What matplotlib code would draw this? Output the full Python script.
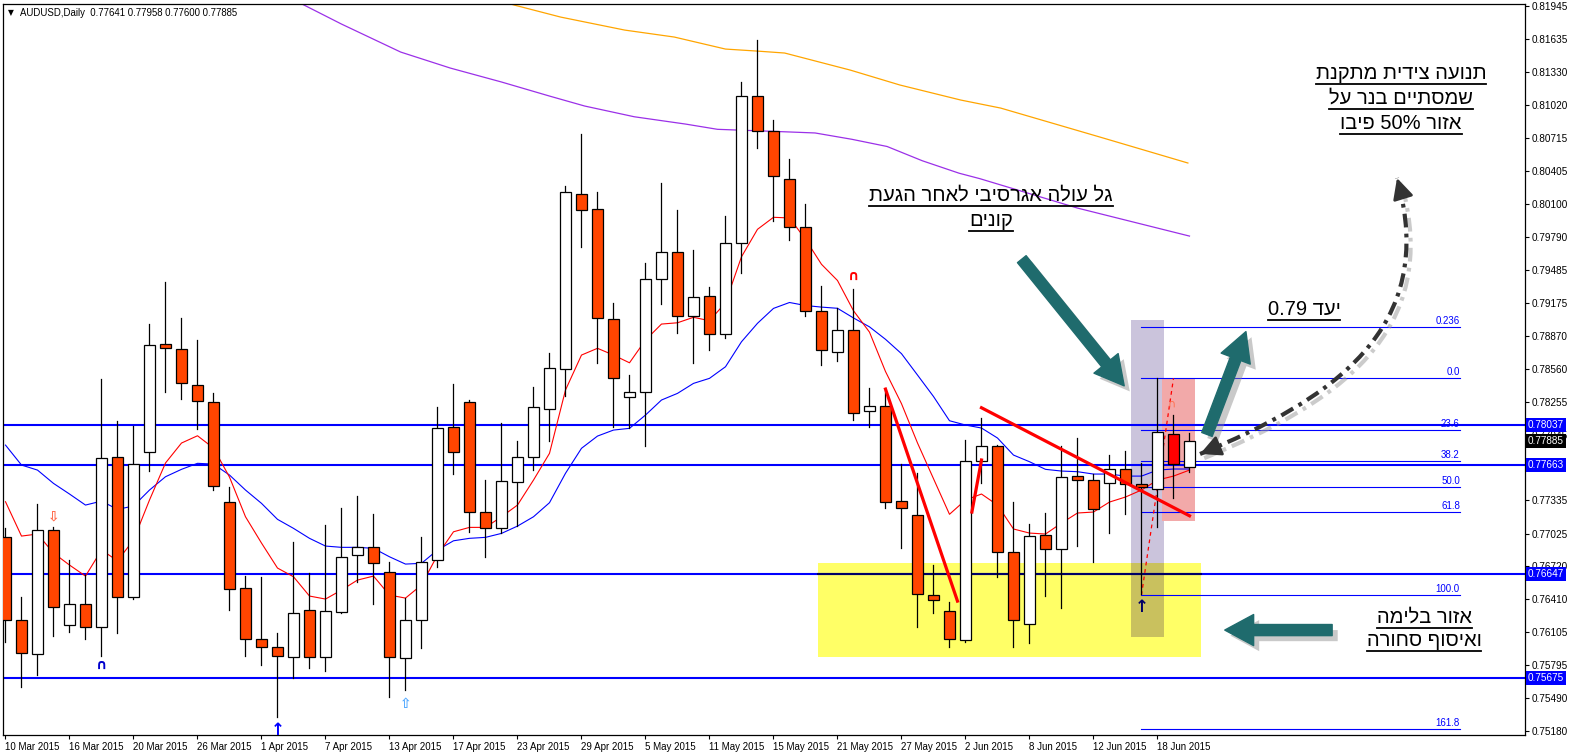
import re
import matplotlib
matplotlib.use("Agg")
import matplotlib.pyplot as plt
import matplotlib.patheffects as pe
from matplotlib.patches import Rectangle, FancyArrowPatch, PathPatch
from matplotlib.path import Path
from matplotlib.lines import Line2D
from matplotlib.transforms import IdentityTransform, blended_transform_factory

plt.rcParams['font.family'] = ['Liberation Sans', 'DejaVu Sans']

# daily candles: bar 0 = 10 Mar 2015 ... bar 74 = 22 Jun 2015 (weekdays)
opens = [0.76995, 0.76218, 0.75899, 0.77057, 0.76169, 0.76368, 0.76150, 0.77740, 0.76430, 0.77781,
         0.78788, 0.78741, 0.78406, 0.78247, 0.77315, 0.76514, 0.76039, 0.75964, 0.75876, 0.76312,
         0.75876, 0.76296, 0.76821, 0.76896, 0.76663, 0.75864, 0.76218, 0.76778, 0.78020, 0.78247,
         0.77222, 0.77073, 0.77502, 0.77740, 0.78182, 0.78555, 0.80189, 0.80046, 0.79021, 0.78294,
         0.78341, 0.79394, 0.79645, 0.79052, 0.79241, 0.78881, 0.79729, 0.81099, 0.80776, 0.80326,
         0.79880, 0.79101, 0.78712, 0.78917, 0.78163, 0.78209, 0.77330, 0.77193, 0.76455, 0.76299,
         0.76028, 0.77700, 0.77837, 0.76849, 0.76178, 0.77008, 0.76877, 0.77558, 0.77520, 0.77492,
         0.77629, 0.77489, 0.77439, 0.77949, 0.77641]
highs = [0.77076, 0.76436, 0.77300, 0.77088, 0.76778, 0.76638, 0.78465, 0.78073, 0.78029, 0.78977,
         0.79366, 0.79030, 0.78828, 0.78331, 0.77455, 0.76629, 0.76622, 0.76100, 0.76948, 0.76654,
         0.77104, 0.77262, 0.77374, 0.77204, 0.76762, 0.76423, 0.76995, 0.78206, 0.78418, 0.78269,
         0.77523, 0.78052, 0.77887, 0.78393, 0.78704, 0.80263, 0.80748, 0.80205, 0.79170, 0.78502,
         0.79543, 0.80288, 0.80040, 0.79667, 0.79319, 0.79984, 0.81230, 0.81624, 0.80878, 0.80516,
         0.80093, 0.79328, 0.79124, 0.79301, 0.78382, 0.78375, 0.77670, 0.77593, 0.76727, 0.76388,
         0.77892, 0.78101, 0.77849, 0.77315, 0.77113, 0.77213, 0.77840, 0.77912, 0.77579, 0.77756,
         0.77793, 0.77679, 0.78471, 0.78129, 0.77958]
lows = [0.76016, 0.75591, 0.75706, 0.76072, 0.76109, 0.76039, 0.75886, 0.76094, 0.76411, 0.77610,
        0.78346, 0.78275, 0.77996, 0.77430, 0.76312, 0.75886, 0.75799, 0.75312, 0.75675, 0.75774,
        0.75746, 0.76286, 0.76575, 0.76365, 0.75504, 0.75566, 0.75957, 0.76715, 0.77576, 0.77041,
        0.76808, 0.77026, 0.77095, 0.77616, 0.77890, 0.78306, 0.79698, 0.78611, 0.78020, 0.78005,
        0.77843, 0.79164, 0.78890, 0.78611, 0.78735, 0.78844, 0.79450, 0.80615, 0.79940, 0.79756,
        0.79048, 0.78591, 0.78635, 0.78086, 0.78019, 0.77260, 0.76894, 0.76155, 0.76282, 0.75966,
        0.76015, 0.77492, 0.76622, 0.75970, 0.76007, 0.76445, 0.76333, 0.76911, 0.76762, 0.77026,
        0.77204, 0.76458, 0.77088, 0.77353, 0.77600]
closes = [0.76218, 0.75908, 0.77057, 0.76342, 0.76368, 0.76150, 0.77725, 0.76430, 0.77672, 0.78779,
          0.78751, 0.78424, 0.78257, 0.77464, 0.76505, 0.76039, 0.75964, 0.75886, 0.76281, 0.75876,
          0.76302, 0.76803, 0.76896, 0.76752, 0.75871, 0.76218, 0.76762, 0.78005, 0.77781, 0.77222,
          0.77073, 0.77514, 0.77740, 0.78201, 0.78564, 0.80205, 0.80037, 0.79030, 0.78471, 0.78341,
          0.79394, 0.79645, 0.79052, 0.79226, 0.78881, 0.79729, 0.81099, 0.80776, 0.80357, 0.79880,
          0.79101, 0.78735, 0.78917, 0.78146, 0.78209, 0.77320, 0.77260, 0.76462, 0.76401, 0.76039,
          0.77697, 0.77837, 0.76849, 0.76218, 0.77001, 0.76877, 0.77554, 0.77520, 0.77250, 0.77629,
          0.77483, 0.77455, 0.77968, 0.77670, 0.77885]

ma_fast = [0.77321, 0.77001, 0.77020, 0.76843, 0.76731, 0.76628, 0.76871, 0.76771, 0.76964, 0.77337,
           0.77682, 0.77868, 0.77936, 0.77821, 0.77551, 0.77181, 0.76936, 0.76703, 0.76622, 0.76442,
           0.76414, 0.76498, 0.76591, 0.76628, 0.76451, 0.76423, 0.76545, 0.76824, 0.77041, 0.77082,
           0.77082, 0.77181, 0.77290, 0.77523, 0.77772, 0.78362, 0.78688, 0.78751, 0.78688, 0.78616,
           0.78828, 0.78977, 0.78989, 0.79040, 0.79008, 0.79176, 0.79604, 0.79860, 0.79972, 0.79966,
           0.79767, 0.79534, 0.79383, 0.79101, 0.78902, 0.78535, 0.78235, 0.77869, 0.77536, 0.77204,
           0.77337, 0.77393, 0.77290, 0.77067, 0.77029, 0.77020, 0.77122, 0.77216, 0.77225, 0.77318,
           0.77365, 0.77430, 0.77523, 0.77560, 0.77616]
ma_mid = [0.77849, 0.77663, 0.77616, 0.77492, 0.77393, 0.77290, 0.77327, 0.77250, 0.77281, 0.77430,
          0.77554, 0.77623, 0.77679, 0.77672, 0.77570, 0.77430, 0.77306, 0.77157, 0.77073, 0.76980,
          0.76908, 0.76896, 0.76896, 0.76887, 0.76808, 0.76740, 0.76747, 0.76871, 0.76957, 0.76980,
          0.76989, 0.77026, 0.77094, 0.77181, 0.77312, 0.77586, 0.77819, 0.77933, 0.77989, 0.78005,
          0.78129, 0.78269, 0.78331, 0.78424, 0.78471, 0.78579, 0.78812, 0.78984, 0.79123, 0.79178,
          0.79150, 0.79135, 0.79124, 0.79034, 0.78951, 0.78835, 0.78701, 0.78502, 0.78302, 0.78076,
          0.78036, 0.78008, 0.77915, 0.77756, 0.77694, 0.77623, 0.77607, 0.77601, 0.77579, 0.77579,
          0.77560, 0.77560, 0.77616, 0.77626, 0.77626]
ma_slow_bar = [18.0, 21.0, 24.7, 27.8, 31.0, 34.0, 36.2, 39.3, 42.5, 44.5, 48.7, 50.6, 52.9, 55.1,
               57.3, 59.6, 60.9, 67.0, 74.0]
ma_slow = [0.82000, 0.81773, 0.81512, 0.81363, 0.81233, 0.81102, 0.81009, 0.80909, 0.80841, 0.80792,
           0.80769, 0.80758, 0.80699, 0.80632, 0.80499, 0.80383, 0.80332, 0.80058, 0.79797]
ma_long_bar = [30.5, 31.8, 34.7, 38.7, 41.8, 45.0, 47.0, 48.7, 52.8, 55.9, 59.7, 62.2, 68.4, 73.9]
ma_long = [0.82006, 0.81950, 0.81838, 0.81717, 0.81652, 0.81540, 0.81521, 0.81503, 0.81344, 0.81205,
           0.81065, 0.80990, 0.80720, 0.80478]

date_labels = ['10 Mar 2015', '16 Mar 2015', '20 Mar 2015', '26 Mar 2015', '1 Apr 2015', '7 Apr 2015',
               '13 Apr 2015', '17 Apr 2015', '23 Apr 2015', '29 Apr 2015', '5 May 2015', '11 May 2015',
               '15 May 2015', '21 May 2015', '27 May 2015', '2 Jun 2015', '8 Jun 2015', '12 Jun 2015',
               '18 Jun 2015']
price_ticks = [0.81945, 0.81635, 0.81330, 0.81020, 0.80715, 0.80405, 0.80100, 0.79790, 0.79485,
               0.79175, 0.78870, 0.78560, 0.78255, 0.77945, 0.77335, 0.77025, 0.76720,
               0.76410, 0.76105, 0.75795, 0.75490, 0.75180]

levels = [0.78037, 0.77663, 0.76647, 0.75675]
last_price = 0.77885

fib_0, fib_100 = 0.78471, 0.76451
fib_from, fib_to = 71, 90.9
fib_levels = [-23.6, 0.0, 23.6, 38.2, 50.0, 61.8, 100.0, 161.8]
fib_names = ['0.236', '0.0', '23.6', '38.2', '50.0', '61.8', '100.0', '161.8']

trend1 = ([55.0, 59.5], [0.78371, 0.76395])
trend2 = ([61.0, 74.0], [0.78197, 0.77190])
trend3 = ([60.4, 61.0], [0.77225, 0.77710])

note_top = ['תנועה צידית מתקנת', 'שמסתיים בנר על', 'אזור 50% פיבו']
note_wave = ['גל עולה אגרסיבי לאחר הגעת', 'קונים']
note_target = 'יעד 0.79'
note_zone = ['אזור בלימה', 'ואיסוף סחורה']

TEAL = '#1f6b6d'


def visual(s):
    # matplotlib has no bidi: lay the Hebrew out right-to-left, keep number runs
    runs = re.findall(r'[0-9A-Za-z.%]+|.', s)
    return ''.join(reversed(runs))


fig = plt.figure(figsize=(15.69, 7.55), dpi=100)
ax = fig.add_axes([3 / 1569, 20 / 755, 1522 / 1569, 731 / 755])
ax.set_xlim(-0.156, 94.97)
ax.set_ylim(0.75147, 0.81960)

# zones
ax.add_patch(Rectangle((50.78, 0.75874), 23.94, 0.00876, facecolor='#ffff66', edgecolor='none', zorder=0.5))
ax.add_patch(Rectangle((70.34, 0.76060), 2.07, 0.02954, facecolor='#cbc4dc', edgecolor='none', zorder=0.6))
ax.add_patch(Rectangle((70.34, 0.76060), 2.07, 0.00690, facecolor='#c9c15e', edgecolor='none', zorder=0.65))
ax.add_patch(Rectangle((72.3, 0.77144), 2.04, 0.01318, facecolor='#f2a9a9', edgecolor='none', zorder=0.6))

for lv in levels:
    ax.axhline(lv, color='#0000ff', lw=1.5, zorder=1)
ax.plot([50.78, 74.72], [levels[2], levels[2]], color='#000066', lw=1.5, zorder=1.1)

# moving averages
bars = list(range(len(opens)))
ax.plot(ma_slow_bar, ma_slow, color='#9b30e8', lw=0.9, zorder=2)
ax.plot(ma_long_bar, ma_long, color='#ffa500', lw=0.9, zorder=2)
ax.plot(bars, ma_mid, color='#0000ff', lw=0.8, zorder=2)
ax.plot(bars, ma_fast, color='#ff0000', lw=0.8, zorder=2)

# fibo
for lvl, name in zip(fib_levels, fib_names):
    y = fib_0 - lvl / 100 * (fib_0 - fib_100)
    ax.plot([fib_from, fib_to], [y, y], color='#0000ff', lw=0.8, zorder=2.5)
    ax.text(fib_to, y + 0.00008, name, color='#0000ff', fontsize=7, ha='right', va='bottom', zorder=2.5)
ax.plot([71, 73], [fib_100, fib_0], color='#ff0000', lw=0.9, ls=(0, (3, 3)), zorder=2.6)

# candles
for i in bars:
    o, h, l, c = opens[i], highs[i], lows[i], closes[i]
    face = 'white' if c >= o else '#ff4500'
    if i == 73:
        face = '#ff0000'
    ax.plot([i, i], [l, h], color='black', lw=0.9, zorder=3)
    ax.add_patch(Rectangle((i - 0.32, min(o, c)), 0.64, max(abs(c - o), 0.00004),
                           facecolor=face, edgecolor='black', lw=0.9, zorder=3.1))

for xs, ys in (trend1, trend2, trend3):
    ax.plot(xs, ys, color='#ff0000', lw=2.3, zorder=4)

# indicator symbols
sym = dict(ha='center', va='center', zorder=4, fontfamily='DejaVu Sans')
ax.text(3, 0.77188, '⇩', color='#ff6a4a', fontsize=10, fontweight='bold', **sym)
ax.text(6, 0.75799, '∩', color='#0000cc', fontsize=10, fontweight='bold', **sym)
ax.text(17, 0.75193, '↑', color='#0000ff', fontsize=12, fontweight='bold', **sym)
ax.text(25, 0.75436, '⇧', color='#55aaff', fontsize=10, fontweight='bold', **sym)
ax.text(53, 0.79424, '∩', color='#ff0000', fontsize=10, fontweight='bold', **sym)
ax.text(71, 0.76340, '↑', color='#000066', fontsize=12, fontweight='bold', **sym)
ax.text(72.9, 0.78232, '∩', color='#ff7050', fontsize=8, **sym)

# annotation arrows
shadow = [pe.SimplePatchShadow(offset=(4, -4), shadow_rgbFace='#888888', alpha=0.45), pe.Normal()]
for a, b in (((63.41, 0.79602), (70.03, 0.78381)),
             ((75.03, 0.77924), (77.59, 0.78931)),
             ((83.09, 0.76125), (76.03, 0.76125))):
    arr = FancyArrowPatch(a, b, arrowstyle='simple,head_length=1.3,head_width=1.4,tail_width=0.5',
                          mutation_scale=16, color=TEAL, zorder=5, capstyle='round')
    arr.set_path_effects(shadow)
    ax.add_patch(arr)

curve = Path([(74.66, 0.77766), (82.78, 0.78269), (89.66, 0.78921), (86.97, 0.80338)],
             [Path.MOVETO, Path.CURVE4, Path.CURVE4, Path.CURVE4])
cp = PathPatch(curve, fill=False, edgecolor='#333333', lw=3, ls=(0, (3.3, 1.5, 0.9, 1.5)), zorder=5)
cp.set_path_effects([pe.SimpleLineShadow(offset=(3, -3), shadow_color='#999999', alpha=0.5), pe.Normal()])
ax.add_patch(cp)
for a, b in (((75.53, 0.77821), (74.66, 0.77766)), ((87.22, 0.80217), (86.97, 0.80338))):
    ax.annotate('', xy=b, xytext=a, zorder=5,
                arrowprops=dict(arrowstyle='-|>,head_length=0.7,head_width=0.35', color='#333333',
                                lw=2, mutation_scale=18, shrinkA=0, shrinkB=0))

# hebrew notes
txt = dict(fontsize=14.5, color='black', ha='center', va='center', zorder=6)
notes = []
for s, y in zip(note_top, [0.81316, 0.81083, 0.80850]):
    notes.append(ax.text(87.22, y, visual(s), **txt))
for s, y in zip(note_wave, [0.80179, 0.79946]):
    notes.append(ax.text(61.6, y, visual(s), **txt))
notes.append(ax.text(81.16, 0.79117, visual(note_target), **txt))
for s, y in zip(note_zone, [0.76246, 0.76032]):
    notes.append(ax.text(88.66, y, visual(s), **txt))

# axes styling
for sp in ax.spines.values():
    sp.set_color('black')
    sp.set_linewidth(0.9)
ax.yaxis.tick_right()
ax.set_yticks(price_ticks)
ax.set_yticklabels([f'{p:.5f}' for p in price_ticks])
ax.set_xticks(range(0, 4 * len(date_labels), 4))
ax.set_xticklabels(date_labels)
for lbl in ax.get_xticklabels():
    lbl.set_ha('left')
ax.tick_params(axis='x', direction='out', length=3, width=0.8, labelsize=7, pad=2, colors='black')
ax.tick_params(axis='y', direction='out', length=3, width=0.8, labelsize=7.2, pad=2, colors='black')

tr = blended_transform_factory(ax.transAxes, ax.transData)
for lv in levels:
    ax.text(1.002, lv, f'{lv:.5f}', transform=tr, color='white', fontsize=7.2, va='center', ha='left',
            clip_on=False, zorder=10, bbox=dict(facecolor='#0000ff', edgecolor='none', pad=1.5))
ax.text(1.002, last_price, f'{last_price:.5f}', transform=tr, color='white', fontsize=7.2, va='center',
        ha='left', clip_on=False, zorder=10, bbox=dict(facecolor='black', edgecolor='none', pad=1.5))

ax.text(0.003, 0.988, '▼', transform=ax.transAxes, fontsize=5.5, va='center', ha='left',
        fontfamily='DejaVu Sans')
ax.text(0.011, 0.988, 'AUDUSD,Daily  0.77641 0.77958 0.77600 0.77885', transform=ax.transAxes,
        fontsize=6.9, va='center', ha='left')

fig.canvas.draw()
for t in notes:
    bb = t.get_window_extent()
    fig.add_artist(Line2D([bb.x0, bb.x1], [bb.y0 - 1, bb.y0 - 1], color='black', lw=1.3,
                          transform=IdentityTransform()))

fig.savefig('out.png', dpi=100, facecolor='white')
